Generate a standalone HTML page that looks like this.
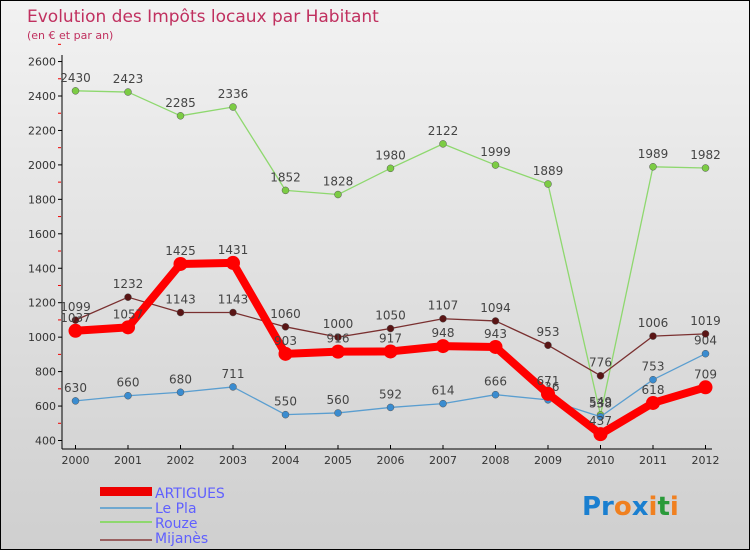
<!DOCTYPE html>
<html><head><meta charset="utf-8"><style>
body{margin:0;width:750px;height:550px;overflow:hidden;font-family:"DejaVu Sans","Liberation Sans",sans-serif}
#wrap{position:absolute;left:0;top:0;width:748px;height:548px;border:1px solid #000;background:linear-gradient(#f2f2f2,#cfcfcf)}
</style></head><body>
<div id="wrap">
<svg width="750" height="550" style="position:absolute;left:-1px;top:-1px">
<text x="27" y="22" font-size="17" fill="#c0305f">Evolution des Impôts locaux par Habitant</text>
<text x="27" y="39" font-size="11" fill="#c0305f">(en € et par an)</text>
<g id="axes"></g><g id="series"></g>
<g>
<rect x="100" y="487" width="52" height="9" fill="#e00"/>
<text x="155" y="498" font-size="14" fill="#6060ff">ARTIGUES</text>
<line x1="100" y1="508" x2="152" y2="508" stroke="#6fa8d0" stroke-width="2"/>
<text x="155" y="513" font-size="14" fill="#6060ff">Le Pla</text>
<line x1="100" y1="522" x2="152" y2="522" stroke="#8ed86e" stroke-width="2"/>
<text x="155" y="528" font-size="14" fill="#6060ff">Rouze</text>
<line x1="100" y1="540" x2="152" y2="540" stroke="#9a6060" stroke-width="2"/>
<text x="155" y="543" font-size="14" fill="#6060ff">Mijanès</text>
</g>
<g font-size="26" font-weight="bold">
<text x="582" y="515"><tspan fill="#1a7fd0">Pr</tspan><tspan fill="#f08020">o</tspan><tspan fill="#1a7fd0">x</tspan><tspan fill="#f08020">i</tspan><tspan fill="#2a9a3a">t</tspan><tspan fill="#f08020">i</tspan></text>
</g>
</svg></div>
<script>
const years=[2000,2001,2002,2003,2004,2005,2006,2007,2008,2009,2010,2011,2012];
const yTicks=[400,600,800,1000,1200,1400,1600,1800,2000,2200,2400,2600];
const artigues=[1037,1057,1425,1431,903,916,917,948,943,671,437,618,709];
const lePla=[630,660,680,711,550,560,592,614,666,636,538,753,904];
const rouze=[2430,2423,2285,2336,1852,1828,1980,2122,1999,1889,549,1989,1982];
const mijanes=[1099,1232,1143,1143,1060,1000,1050,1107,1094,953,776,1006,1019];
const NS="http://www.w3.org/2000/svg";
const xs=i=>75.5+i*(705.5-75.5)/12;
const ys=v=>440.5-(v-400)*(34.45/200);
function mk(t,a,p){const e=document.createElementNS(NS,t);for(const k in a)e.setAttribute(k,a[k]);p.appendChild(e);return e;}
const ax=document.getElementById('axes');
const yl=mk('line',{x1:62,y1:55,x2:62,y2:449,stroke:'#000'},ax);


const xl=mk('line',{x1:62,y1:449,x2:712,y2:449,stroke:'#000'},ax);


yTicks.forEach(v=>{
  mk('line',{x1:58,y1:ys(v),x2:62,y2:ys(v),stroke:'#000'},ax);
  mk('line',{x1:58,y1:ys(v+100),x2:61,y2:ys(v+100),stroke:'#e00'},ax);
  const t=mk('text',{x:56,y:ys(v)+4,'text-anchor':'end','font-size':11,fill:'#333'},ax);
  t.textContent=v;
  
  
});
years.forEach((y,i)=>{
  mk('line',{x1:xs(i),y1:445,x2:xs(i),y2:449,stroke:'#000'},ax);
  const t=mk('text',{x:xs(i),y:464,'text-anchor':'middle','font-size':11,fill:'#333'},ax);
  t.textContent=y;
  
  
});
const sg=document.getElementById('series');
function draw(data,color,w,r,dot,name){
  const g=mk('g',{},sg);
  
  
  const pl=mk('polyline',{points:data.map((v,i)=>xs(i)+','+ys(v)).join(' '),fill:'none',stroke:color,'stroke-width':w,'stroke-linejoin':'round'},g);
  
  
  data.forEach((v,i)=>{
    const c=mk('circle',{cx:xs(i),cy:ys(v),r:r,fill:dot,stroke:'#555','stroke-width':r>5?0:0.5},g);
    
    
    const t=mk('text',{x:xs(i),y:ys(v)-9,'text-anchor':'middle','font-size':12,fill:'#444'},g);
    t.textContent=v;
    
    
  });
}
draw(rouze,'#8ed86e',1.3,3.5,'#7ccc44','rouze');
draw(lePla,'#5a9ed0',1.3,3.5,'#3a8cd0','le-pla');
draw(mijanes,'#7a3030',1.3,3.5,'#5a1515','mijanes');
draw(artigues,'#f00',8,7,'#f00','artigues');
</script>
</body></html>
